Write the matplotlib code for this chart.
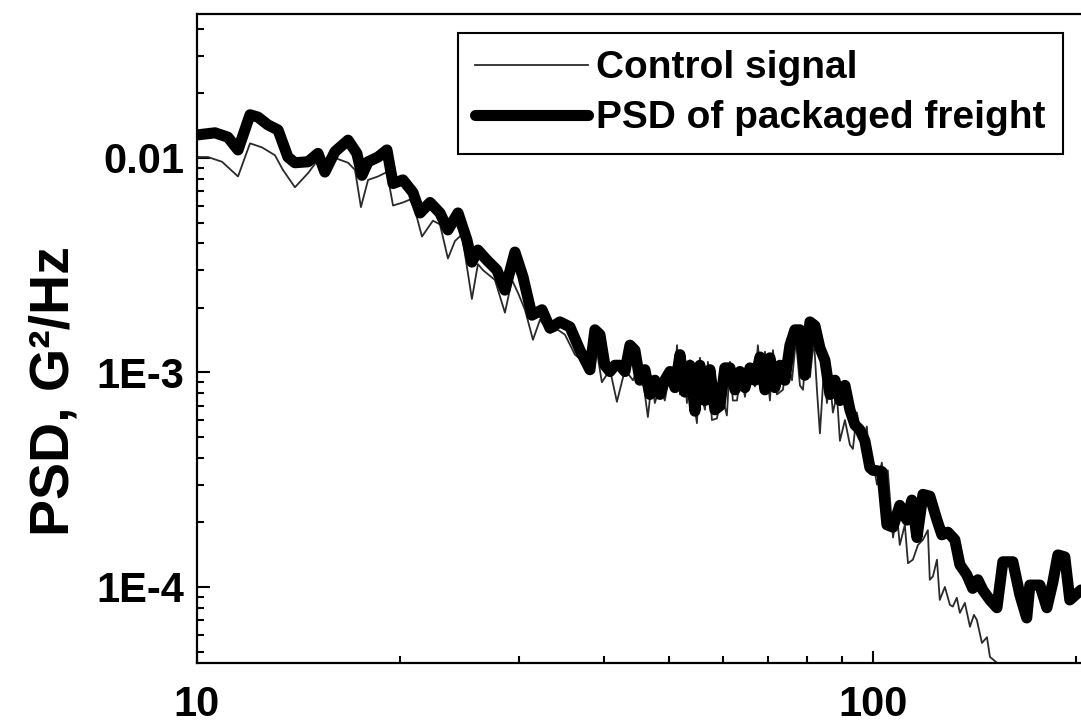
import matplotlib
matplotlib.use("Agg")
import matplotlib.pyplot as plt
from matplotlib.ticker import FixedLocator, FixedFormatter, LogLocator, NullFormatter

plt.rcParams['font.family'] = ['Liberation Sans', 'DejaVu Sans']
plt.rcParams['font.weight'] = 'bold'

# PSD of packaged freight (thick line)
freight_f = [10.0, 10.63, 11.11, 11.50, 11.98, 12.31, 12.74, 13.18, 13.63, 13.96,
             14.60, 15.10, 15.46, 16.00, 16.73, 17.24, 17.54, 17.91, 18.53, 19.10,
             19.50, 20.17, 20.87, 21.38, 22.12, 22.88, 23.51, 24.33, 25.08, 25.51,
             26.04, 26.85, 27.78, 28.55, 29.54, 30.36, 31.30, 32.39, 33.28, 34.43,
             35.63, 36.86,
             38.14, 38.79, 39.46, 40.13, 40.83, 41.53, 42.24, 42.97, 43.71, 44.45,
             45.22, 45.99, 46.79, 47.58, 48.41, 49.22, 50.09, 50.95, 51.83, 52.71,
             53.62, 54.54, 55.48, 56.43, 57.41, 58.38, 59.40, 60.39, 61.45, 62.52,
             63.58, 64.67, 65.79, 66.91, 68.07, 69.23, 70.42, 71.61, 72.86, 74.11,
             75.39, 76.67, 78.00, 79.30, 80.70, 82.09, 83.49, 84.92, 86.39, 87.87,
             89.38, 90.92, 92.47, 94.06, 95.68, 97.32, 98.99,
             100.0, 103.1, 104.9, 107.1,
             109.6, 112.3, 114.2, 116.2, 118.6, 121.4, 124.4, 126.5, 129.1, 132.2,
             134.5, 137.7, 140.5, 143.0, 145.4, 149.0, 152.6, 155.7, 161.1, 165.0,
             168.9, 170.7, 176.6, 180.9, 184.6, 187.8, 192.3, 195.6, 203.2]
freight_psd = [0.0128, 0.0131, 0.0125, 0.0109, 0.0159, 0.0155, 0.01425, 0.0135, 0.0101, 0.0095,
               0.0096, 0.0105, 0.0086, 0.0107, 0.0121, 0.0105, 0.0083, 0.0096, 0.0101, 0.0109,
               0.0076, 0.0079, 0.0069, 0.00554, 0.0062, 0.00554, 0.00462, 0.00554, 0.00415, 0.00327,
               0.00372, 0.00334, 0.0030, 0.00242, 0.00364, 0.00279, 0.00185, 0.00196, 0.00161, 0.00172,
               0.00163, 0.00127,
               0.00103, 0.00158, 0.0015, 0.00108, 0.00101, 0.00108, 0.00108, 0.00101, 0.00134, 0.00127,
               0.00092, 0.00103, 0.00079, 0.00092, 0.00079, 0.00092, 0.00101, 0.00085, 0.00121, 0.00081,
               0.00108, 0.00066, 0.00108, 0.00074, 0.00103, 0.00067, 0.0007, 0.00105, 0.00105, 0.00083,
               0.00101, 0.00085, 0.00105, 0.00092, 0.00118, 0.00083, 0.00117, 0.00085, 0.00108, 0.00092,
               0.00134, 0.00158, 0.00158, 0.00097, 0.00172, 0.00165, 0.0013, 0.00114, 0.00079, 0.00092,
               0.00074, 0.00087, 0.00067, 0.00057, 0.00054, 0.00048, 0.00036,
               0.00035, 0.000345, 0.000195, 0.00019,
               0.00024, 0.000205, 0.000254, 0.00017, 0.00027, 0.000265, 0.000205, 0.000175, 0.00018, 0.000166,
               0.000127, 0.000114, 0.0000985, 0.000108, 0.0000968, 0.000087, 0.00008, 0.000131, 0.000131, 0.0000918,
               0.0000717, 0.000102, 0.000102, 0.00008, 0.000105, 0.000141, 0.000138, 0.000087, 0.0000968]

# Control signal (thin line)
control_f = [10.0, 10.38, 10.89, 11.50, 11.98, 12.48, 13.04, 13.40, 13.96, 14.60,
             15.10, 16.00, 16.73, 17.13, 17.48, 17.91, 18.53, 19.10, 19.50, 20.17,
             20.66, 21.02, 21.52, 22.34, 22.88, 23.51, 24.08, 24.66, 25.51, 26.04,
             26.49, 27.59, 28.55, 29.24, 29.85, 30.57, 31.41, 32.17, 33.28, 34.20,
             35.03, 36.24, 37.11, 38.14, 38.92, 39.72, 40.83, 41.81, 42.97, 44.16,
             45.22, 45.99, 46.46, 47.10, 47.58, 48.41, 49.22, 50.09, 50.77, 51.31,
             51.83, 52.53, 53.07, 53.62, 54.16, 54.91, 55.48, 56.04, 56.43, 57.01,
             57.79, 58.77, 59.78, 60.81, 61.45, 62.06, 62.94, 63.77, 64.67, 65.79,
             66.91, 67.58, 68.51, 69.23, 70.42, 71.15, 72.11, 73.60, 74.63, 75.91,
             76.94, 78.00, 78.80, 79.86, 80.70, 81.80, 82.65, 83.49, 84.63, 85.51,
             86.39, 87.27, 88.46, 89.38, 90.92, 92.47, 93.42, 94.70, 96.32, 97.97,
             98.99, 100.0, 101.4, 103.1, 104.2, 105.2, 107.1, 108.5, 109.6, 111.5,
             112.7, 114.6, 116.6, 118.6, 120.6, 121.4, 122.7, 124.4, 125.6, 127.8,
             130.0, 131.3, 133.1, 134.5, 136.8, 139.2, 141.1, 142.5, 145.0, 147.5,
             149.0, 152.6, 155.7, 162.2, 170.7, 182.7, 203.2]
control_psd = [0.0101, 0.0101, 0.0096, 0.0082, 0.0117, 0.0112, 0.0103, 0.0088, 0.0073, 0.0085,
               0.0098, 0.0100, 0.0095, 0.0088, 0.0059, 0.0079, 0.0082, 0.0086, 0.0060, 0.0062,
               0.0064, 0.0057, 0.0043, 0.0051, 0.0049, 0.0034, 0.0041, 0.0044, 0.0022, 0.0032,
               0.0030, 0.0027, 0.0019, 0.0027, 0.00235, 0.00196, 0.00142, 0.00176, 0.00153, 0.00158,
               0.0015, 0.00121, 0.00114, 0.0010, 0.00134, 0.0009, 0.00103, 0.00073, 0.00103, 0.00092,
               0.00108, 0.00079, 0.00062, 0.00092, 0.00072, 0.00087, 0.00074, 0.00101, 0.00083, 0.00134,
               0.00079, 0.00114, 0.00072, 0.00114, 0.00079, 0.00058, 0.00117, 0.00074, 0.00067, 0.00112,
               0.0006, 0.00061, 0.00079, 0.00063, 0.00112, 0.00074, 0.00074, 0.00101, 0.00077, 0.00108,
               0.00086, 0.00134, 0.00083, 0.00125, 0.00074, 0.00127, 0.00079, 0.00083, 0.00114, 0.00092,
               0.00142, 0.00087, 0.00083, 0.00134, 0.00095, 0.00142, 0.00083, 0.00052, 0.00103, 0.00072,
               0.00092, 0.00065, 0.00079, 0.00048, 0.0006, 0.00046, 0.00044, 0.00065, 0.00046, 0.00056,
               0.00035, 0.00039, 0.0003, 0.00038, 0.00027, 0.00035, 0.00017, 0.00022, 0.000157, 0.000195,
               0.000129, 0.000134, 0.000157, 0.000166, 0.000184, 0.000108, 0.000112, 0.000134, 0.000087, 0.0001,
               0.0000825, 0.000081, 0.000089, 0.0000757, 0.0000843, 0.0000652, 0.0000741, 0.0000702, 0.0000548, 0.0000583,
               0.0000472, 0.0000443, 0.000042, 0.0000371, 0.0000334, 0.0000316, 0.00003]

y_ticks = [1e-4, 1e-3, 1e-2]
y_ticklabels = ['1E-4', '1E-3', '0.01']
x_ticks = [10, 100]
x_ticklabels = ['10', '100']

fig = plt.figure(figsize=(10.81, 7.24), dpi=100)
ax = fig.add_axes([197/1081, 61/724, 884/1081, 649/724])

ax.plot(control_f, control_psd, '-', color='#2a2a2a', lw=1.3, label='Control signal')
ax.plot(freight_f, freight_psd, '-', color='black', lw=8, solid_capstyle='round',
        solid_joinstyle='round', label='PSD of packaged freight')

ax.set_xscale('log')
ax.set_yscale('log')
ax.set_xlim(10, 203.2)
ax.set_ylim(4.42e-5, 0.0469)

ax.xaxis.set_major_locator(FixedLocator(x_ticks))
ax.xaxis.set_major_formatter(FixedFormatter(x_ticklabels))
ax.yaxis.set_major_locator(FixedLocator(y_ticks))
ax.yaxis.set_major_formatter(FixedFormatter(y_ticklabels))
ax.xaxis.set_minor_locator(LogLocator(base=10, subs=range(2, 10)))
ax.yaxis.set_minor_locator(LogLocator(base=10, subs=range(2, 10)))
ax.xaxis.set_minor_formatter(NullFormatter())
ax.yaxis.set_minor_formatter(NullFormatter())

ax.tick_params(which='both', direction='in', width=1.5, right=False, top=False)
ax.tick_params(which='major', length=9, labelsize=30)
ax.tick_params(which='minor', length=5)
ax.tick_params(axis='y', which='major', pad=9)
ax.tick_params(axis='x', which='major', pad=16)

ax.spines['right'].set_visible(False)
for s in ['left', 'bottom', 'top']:
    ax.spines[s].set_linewidth(1.6)

ax.set_ylabel('PSD, G²/Hz', fontsize=40, fontweight='bold')
ax.yaxis.label.set_va('center')
ax.yaxis.set_label_coords(-142/884, (663-391)/649)

leg = ax.legend(loc='upper right', bbox_to_anchor=(1063/1081, 1 - 33/724),
                bbox_transform=fig.transFigure, fontsize=28, frameon=True,
                fancybox=False, edgecolor='black', framealpha=1,
                handlelength=2.9, handletextpad=0.2, labelspacing=0.36,
                borderpad=0.45, borderaxespad=0)
leg.get_frame().set_linewidth(1.5)
for t in leg.get_texts():
    t.set_fontweight('bold')

fig.savefig('out.png', dpi=100)
